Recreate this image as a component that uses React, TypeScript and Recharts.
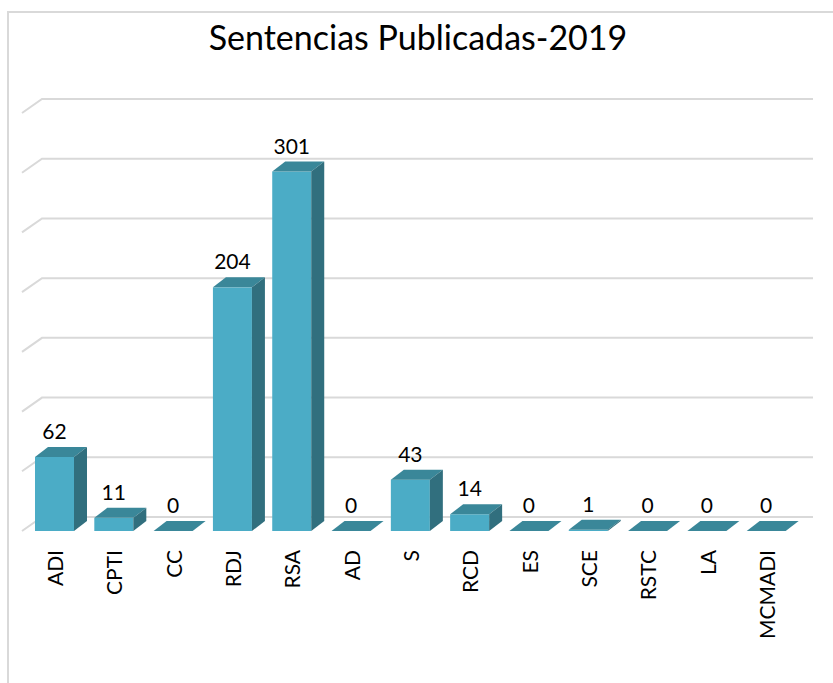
import { BarChart, Bar, XAxis, YAxis, CartesianGrid, LabelList } from "recharts";

const categories = ["ADI", "CPTI", "CC", "RDJ", "RSA", "AD", "S", "RCD", "ES", "SCE", "RSTC", "LA", "MCMADI"];
const sentencias = [62, 11, 0, 204, 301, 0, 43, 14, 0, 1, 0, 0, 0];
const yTicks = [0, 50, 100, 150, 200, 250, 300, 350];

const data = categories.map((name, i) => ({ name, value: sentencias[i] }));

const FONT = "Lato, 'Open Sans', sans-serif";
const FRONT = "#4BACC6";
const TOP = "#3A8799";
const SIDE = "#316F7E";
const GRID = "#D9D9D9";

// 3d offsets: bars and back wall
const BDX = 13;
const BDY = 10;
const WDX = 20;
const WDY = 14;

function Bar3D(props: any) {
  const { x, y, width: w, height } = props;
  const h = Math.max(0, height || 0);
  return (
    <g>
      <rect x={x} y={y} width={w} height={h} fill={FRONT} />
      <path
        d={`M${x},${y} L${x + BDX},${y - BDY} L${x + w + BDX},${y - BDY} L${x + w},${y} Z`}
        fill={TOP}
      />
      <path
        d={`M${x + w},${y} L${x + w + BDX},${y - BDY} L${x + w + BDX},${y + h - BDY} L${x + w},${y + h} Z`}
        fill={SIDE}
      />
    </g>
  );
}

function gridLine(props: any) {
  const { x1, x2, y1 } = props;
  const sx = x1 - 3;
  return (
    <path
      key={`g-${y1}`}
      d={`M${sx},${y1} L${sx + WDX},${y1 - WDY} L${x2 + 17},${y1 - WDY}`}
      stroke={GRID}
      strokeWidth={2}
      fill="none"
    />
  );
}

function CategoryTick(props: any) {
  const { x, y, payload } = props;
  return (
    <text
      x={x}
      y={y}
      transform={`rotate(-90, ${x}, ${y})`}
      textAnchor="end"
      dominantBaseline="central"
      fontFamily={FONT}
      fontSize={21}
      fill="#000"
    >
      {payload.value}
    </text>
  );
}

function ValueLabel(props: any) {
  const { x, y, width, value } = props;
  return (
    <text x={x + width / 2} y={y - 18} textAnchor="middle" fontFamily={FONT} fontSize={21} fill="#000">
      {value}
    </text>
  );
}

export default function App() {
  return (
    <div style={{ position: "absolute", left: 0, top: 0, width: 833, height: 683, overflow: "hidden", background: "#fff" }}>
      <div
        style={{
          position: "absolute",
          left: 7,
          top: 11,
          width: 900,
          height: 800,
          border: `2px solid ${GRID}`,
        }}
      />
      <div
        style={{
          position: "absolute",
          left: 0,
          top: 17,
          width: 836,
          textAlign: "center",
          fontFamily: FONT,
          fontSize: 34,
          color: "#000",
          lineHeight: "40px",
        }}
      >
        Sentencias Publicadas-2019
      </div>
      <div style={{ position: "absolute", left: 0, top: 0 }}>
        <BarChart
          width={833}
          height={683}
          data={data}
          margin={{ top: 113, right: 37, bottom: 52, left: 25 }}
          barSize={39}
        >
          <CartesianGrid vertical={false} horizontal={gridLine} />
          <YAxis hide domain={[0, 350]} ticks={yTicks} />
          <XAxis
            dataKey="name"
            height={100}
            axisLine={false}
            tickLine={false}
            tickSize={0}
            tickMargin={19}
            interval={0}
            tick={<CategoryTick />}
          />
          <Bar dataKey="value" shape={<Bar3D />} isAnimationActive={false}>
            <LabelList dataKey="value" content={<ValueLabel />} />
          </Bar>
        </BarChart>
      </div>
    </div>
  );
}
